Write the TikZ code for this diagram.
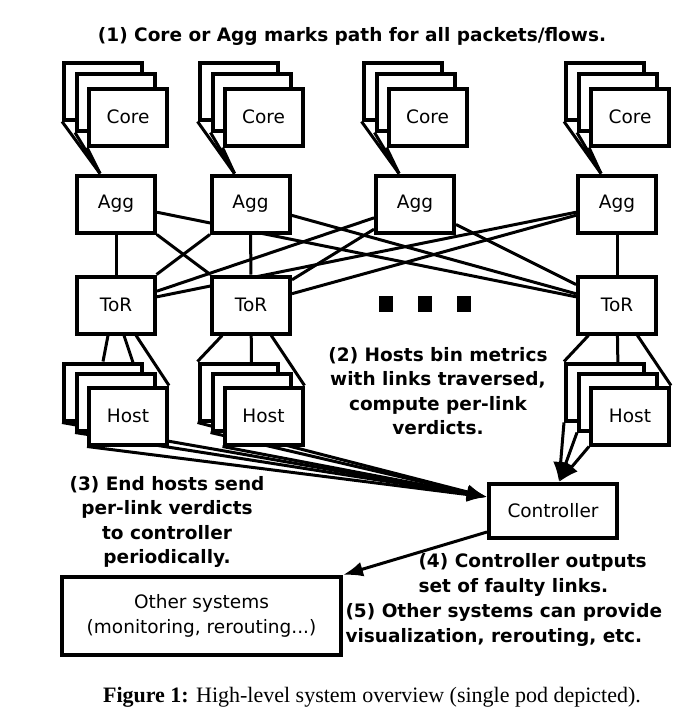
\documentclass[tikz,border=0pt]{standalone}
\usepackage{fontspec}
\newfontfamily\dvs{DejaVu Sans}
\newfontfamily\capfont{Liberation Serif}
\usetikzlibrary{positioning,backgrounds,arrows.meta}

\begin{document}
\begin{tikzpicture}[x=1pt, y=-1pt,
    box/.style={draw, fill=white, line width=4pt, minimum width=78pt, minimum height=57pt,
        inner sep=0pt, align=center, font=\dvs\fontsize{18.5}{25}\selectfont},
    note/.style={font=\dvs\bfseries\fontsize{18.5}{24.5}\selectfont, align=center},
    link/.style={line width=3pt},
    tip/.style={line width=3pt, -{Latex[length=20pt,width=15pt]}}]
    \useasboundingbox (0,0) rectangle (688,724);

    \node[note] (lbl1) at (352,36) {(1) Core or Agg marks path for all packets/flows.};

    \foreach \i/\x in {1/128,2/263.5,3/427.5,4/630} {
        \node[box] (core\i-1) at (\x-25,91) {};
        \node[box] (core\i-2) at (\x-12,102) {};
        \node[box] (core\i-3) at (\x,117) {Core};
    }
    \foreach \i/\x in {1/116,2/250.5,3/415,4/617}
        \node[box] (agg\i) at (\x,204) {Agg};
    \foreach \i/\x in {1/116,2/251,4/617}
        \node[box] (tor\i) at (\x,305) {ToR};
    \foreach \x in {386,425,464}
        \fill (\x-7,296) rectangle ++(14,16);
    \foreach \i/\x in {1/128,2/263.5,4/630} {
        \node[box] (host\i-1) at (\x-25,392) {};
        \node[box] (host\i-2) at (\x-12,402) {};
        \node[box] (host\i-3) at (\x,416) {Host};
    }

    \node[box, minimum width=128pt, minimum height=54pt] (ctrl) at (553,511) {Controller};
    \node[box, minimum width=279pt, minimum height=78pt] (other) at (201.5,616)
        {Other systems\\(monitoring, rerouting...)};

    \node[note] (lbl2) at (438,391) {(2) Hosts bin metrics\\with links traversed,\\compute per-link\\verdicts.};
    \node[note] (lbl3) at (167,522) {(3) End hosts send\\per-link verdicts\\to controller\\periodically.};
    \node[note, align=left, anchor=west] (lbl4) at (415,575) {(4) Controller outputs\\set of faulty links.};
    \node[note, align=left, anchor=west] (lbl5) at (342,625) {(5) Other systems can provide\\visualization, rerouting, etc.};
    \node[font=\capfont\fontsize{22}{26}\selectfont] (caption) at (372,697)
        {\textbf{Figure 1:} High-level system overview (single pod depicted).};

    \begin{pgfonlayer}{background}
        \foreach \i in {1,2,3,4}
            \foreach \k in {1,2,3}
                \draw[link] (core\i-\k.south west) -- ([xshift=-16pt]agg\i.north);
        \foreach \i in {1,2,3,4}
            \foreach \j in {1,2,4}
                \draw[link] (agg\i) -- (tor\j);

        \draw[link] ([xshift=-8pt]tor1.south) -- (host1-1.north)
            ([xshift=8pt]tor1.south) -- ([xshift=20pt]host1-2.north)
            (tor1) -- (host1-3.north east);
        \foreach \j in {2,4}
            \draw[link] (tor\j) -- (host\j-1.north west)
                (tor\j) -- (host\j-2.north)
                (tor\j) -- (host\j-3.north east);

        \foreach \i in {1,2}
            \foreach \k in {1,2,3}
                \draw[tip] (host\i-\k.south west) -- ([yshift=14pt]ctrl.west);
        \foreach \k in {1,2,3}
            \draw[tip] (host4-\k.south west) -- ([xshift=6pt]ctrl.north);
        \draw[tip] ([yshift=-21pt]ctrl.west) -- (other.north east);
    \end{pgfonlayer}
\end{tikzpicture}
\end{document}
